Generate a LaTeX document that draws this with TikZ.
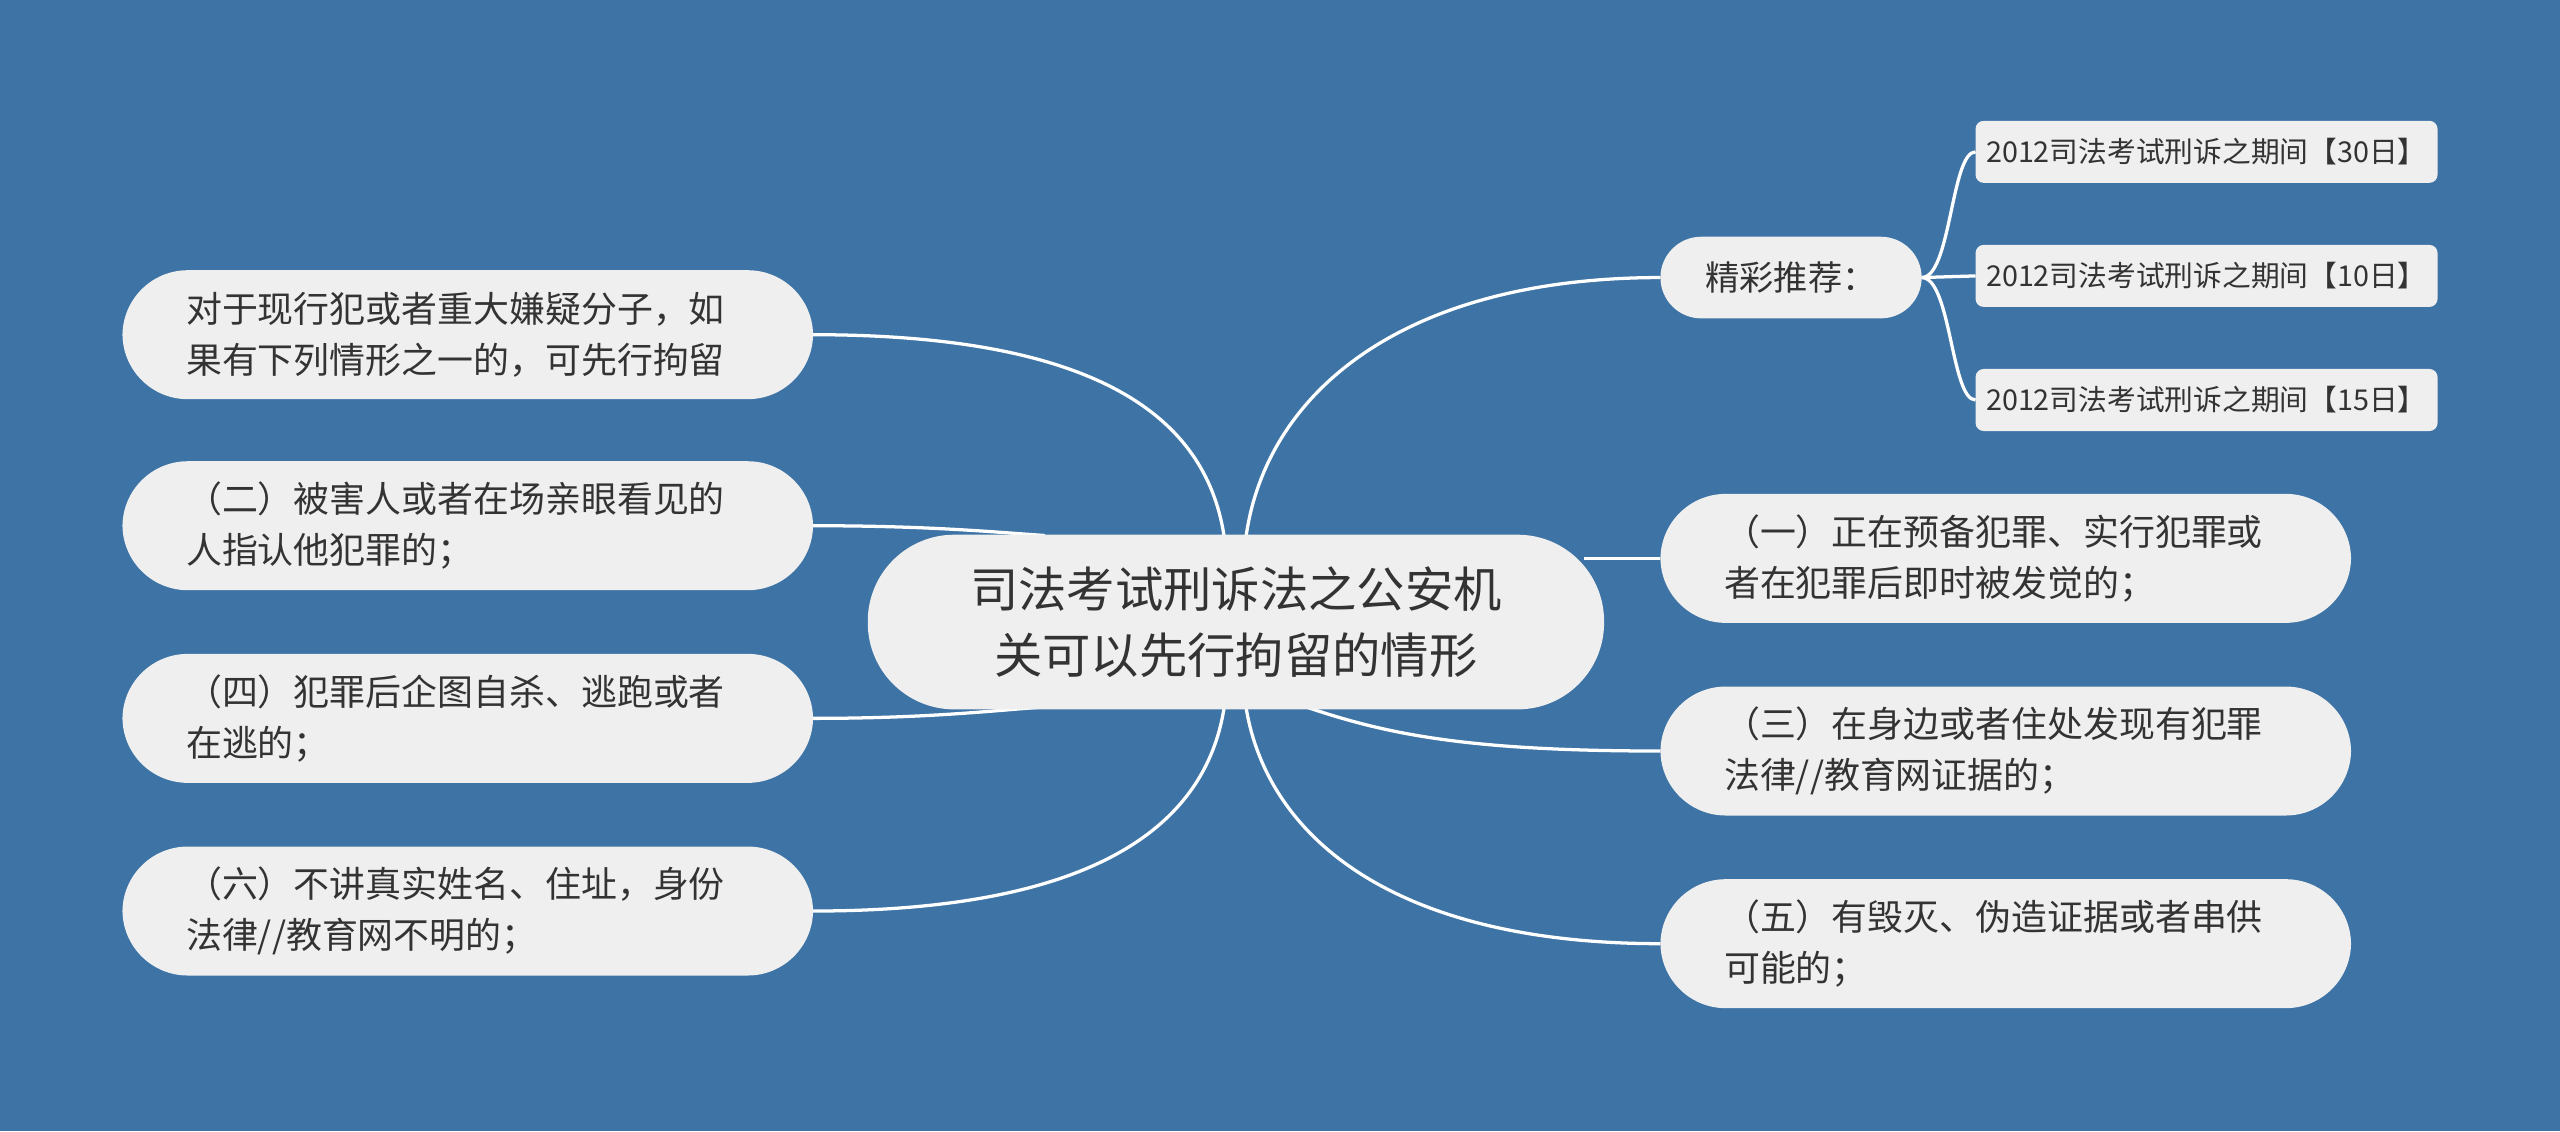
\documentclass[tikz,border=0pt]{standalone}
\usepackage{fontspec}
\setmainfont{Noto Sans CJK SC}
\begin{document}
\begin{tikzpicture}[x=1pt,y=-1pt,
  bx/.style={fill=boxc,rounded corners=40pt,minimum width=423pt,minimum height=79pt,text width=345pt,align=left,font=\fontsize{22}{31}\selectfont,text=txt},
  sm/.style={fill=boxc,rounded corners=5pt,minimum width=283pt,minimum height=38pt,text width=270pt,align=left,font=\fontsize{17.6}{20}\selectfont,text=txt},
  ln/.style={draw=white,line width=2pt}]
\definecolor{bg}{HTML}{3D73A5}
\definecolor{boxc}{HTML}{EFEFEF}
\definecolor{txt}{HTML}{333333}
\fill[bg] (0,0) rectangle (1568,693);
\coordinate (ct1) at (750,330);
\coordinate (ct2) at (763,330);
\coordinate (cb1) at (750,432);
\coordinate (cb2) at (763,432);
\coordinate (cl2) at (640,328);
\coordinate (cl3) at (640,433);
\coordinate (cr1) at (970,342);
\coordinate (cr2) at (800,433);
\coordinate (l1e) at (498,205);
\coordinate (l2e) at (498,322);
\coordinate (l3e) at (498,440);
\coordinate (l4e) at (498,558);
\coordinate (r1w) at (1017,342);
\coordinate (r2w) at (1017,460);
\coordinate (r3w) at (1017,578);
\coordinate (jw) at (1017,170);
\coordinate (je) at (1177,170);
\coordinate (s1w) at (1210,93);
\coordinate (s2w) at (1210,169);
\coordinate (s3w) at (1210,245);
\draw[ln] (l1e) .. controls (680,205) and (740,260) .. (ct1);
\draw[ln] (l2e) .. controls (570,322) and (610,326) .. (cl2);
\draw[ln] (l3e) .. controls (570,440) and (610,435) .. (cl3);
\draw[ln] (l4e) .. controls (680,558) and (740,500) .. (cb1);
\draw[ln] (jw) .. controls (860,170) and (775,240) .. (ct2);
\draw[ln] (r1w) -- (cr1);
\draw[ln] (r2w) .. controls (900,460) and (850,450) .. (cr2);
\draw[ln] (r3w) .. controls (850,578) and (775,510) .. (cb2);
\draw[ln] (je) .. controls (1195,170) and (1195,93) .. (s1w);
\draw[ln] (je) -- (s2w);
\draw[ln] (je) .. controls (1195,170) and (1195,245) .. (s3w);
\node[fill=boxc,rounded corners=53pt,minimum width=451pt,minimum height=107pt,align=center,font=\fontsize{29.6}{40}\selectfont,text=txt] (c) at (757,381) {司法考试刑诉法之公安机\\关可以先行拘留的情形};
\node[bx] (l1) at (286.5,205) {对于现行犯或者重大嫌疑分子，如\\果有下列情形之一的，可先行拘留};
\node[bx] (l2) at (286.5,322) {（二）被害人或者在场亲眼看见的\\人指认他犯罪的；};
\node[bx] (l3) at (286.5,440) {（四）犯罪后企图自杀、逃跑或者\\在逃的；};
\node[bx] (l4) at (286.5,558) {（六）不讲真实姓名、住址，身份\\法律//教育网不明的；};
\node[bx] (r1) at (1228.5,342) {（一）正在预备犯罪、实行犯罪或\\者在犯罪后即时被发觉的；};
\node[bx] (r2) at (1228.5,460) {（三）在身边或者住处发现有犯罪\\法律//教育网证据的；};
\node[bx] (r3) at (1228.5,578) {（五）有毁灭、伪造证据或者串供\\可能的；};
\node[fill=boxc,rounded corners=25pt,minimum width=160pt,minimum height=50pt,font=\fontsize{21}{24}\selectfont,text=txt] (j) at (1097,170) {精彩推荐：};
\node[sm] (s1) at (1351.5,93) {2012司法考试刑诉之期间【30日】};
\node[sm] (s2) at (1351.5,169) {2012司法考试刑诉之期间【10日】};
\node[sm] (s3) at (1351.5,245) {2012司法考试刑诉之期间【15日】};
\end{tikzpicture}
\end{document}
